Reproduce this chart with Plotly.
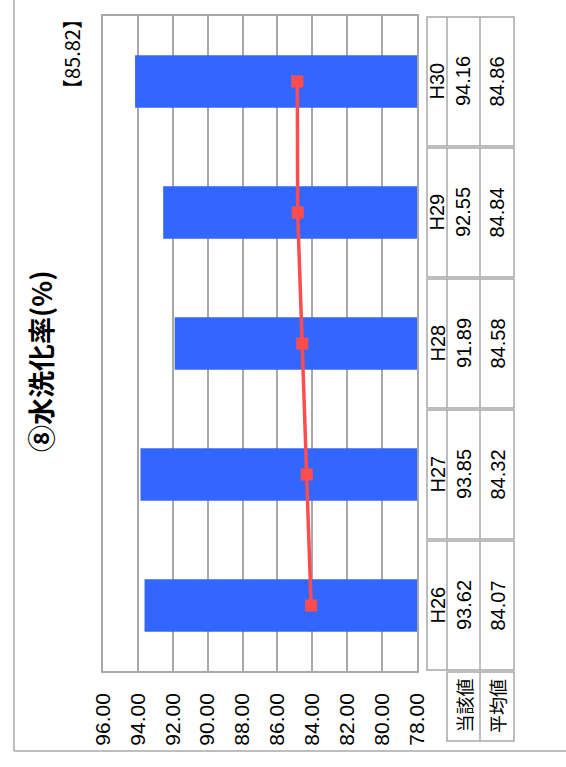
import plotly.graph_objects as go

# ---- data ----
categories = ["H26", "H27", "H28", "H29", "H30"]
actual_values = [93.62, 93.85, 91.89, 92.55, 94.16]
average_values = [84.07, 84.32, 84.58, 84.84, 84.86]
overall_label = "【85.82】"
title_text = "⑧水洗化率(%)"
row_labels = ["当該値", "平均値"]
tick_values = [78, 80, 82, 84, 86, 88, 90, 92, 94, 96]
tick_labels = [f"{v:.2f}" for v in tick_values]

W, H = 566, 767
def px(x):
    return x / W
def py(y):
    return 1 - y / H

GRID = "#A8A8A8"
NUMFONT = "Liberation Sans, Arial, sans-serif"
JPFONT = "Noto Sans CJK JP, sans-serif"

fig = go.Figure()
fig.add_trace(go.Bar(
    y=categories, x=actual_values, orientation="h", width=0.4,
    marker=dict(color="#3366FF", line=dict(width=0)),
    showlegend=False, hoverinfo="skip",
))
fig.add_trace(go.Scatter(
    y=categories, x=average_values, mode="lines+markers",
    line=dict(color="#FF4D4D", width=3.5),
    marker=dict(symbol="square", size=12, color="#FF4D4D"),
    showlegend=False, hoverinfo="skip", cliponaxis=False,
))

fig.update_layout(
    width=W, height=H,
    margin=dict(l=0, r=0, t=0, b=0),
    paper_bgcolor="white", plot_bgcolor="white",
    xaxis=dict(
        domain=[px(103), px(417)], range=[96, 78], automargin=False,
        tickvals=tick_values, ticktext=tick_labels, tickangle=-90,
        showgrid=True, gridcolor=GRID, gridwidth=1.5,
        showline=True, mirror=True, linecolor=GRID, linewidth=1.5,
        zeroline=False, ticks="", ticklabelstandoff=12,
        tickfont=dict(family=NUMFONT, size=21, color="black"),
    ),
    yaxis=dict(
        domain=[py(671), py(16)], range=[-0.5, 4.5], automargin=False,
        categoryorder="array", categoryarray=categories,
        showgrid=False, showticklabels=False, ticks="",
        showline=True, mirror=True, linecolor=GRID, linewidth=1.5,
        zeroline=False,
    ),
    bargap=0.6,
)

shapes = []
line_style = dict(color=GRID, width=1.5)
# outer frame (left and bottom)
shapes.append(dict(type="line", xref="paper", yref="paper", x0=px(14), x1=px(14), y0=1, y1=py(751), line=line_style))
shapes.append(dict(type="line", xref="paper", yref="paper", x0=px(14), x1=1, y0=py(751), y1=py(751), line=line_style))

# table blocks per category
col_x = [427, 447, 480, 514]
annotations = []
inset = 0.008
for i, cat in enumerate(categories):
    shapes.append(dict(type="rect", xref="paper", yref="y",
                       x0=px(col_x[0]), x1=px(col_x[3]), y0=i - 0.5 + inset, y1=i + 0.5 - inset,
                       line=line_style, fillcolor="rgba(0,0,0,0)"))
    for cx in col_x[1:3]:
        shapes.append(dict(type="line", xref="paper", yref="y",
                           x0=px(cx), x1=px(cx), y0=i - 0.5 + inset, y1=i + 0.5 - inset, line=line_style))
    texts = [cat, f"{actual_values[i]:.2f}", f"{average_values[i]:.2f}"]
    for j, t in enumerate(texts):
        annotations.append(dict(
            xref="paper", yref="y", x=px((col_x[j] + col_x[j + 1]) / 2), y=cat,
            text=t, textangle=-90, showarrow=False, xanchor="center", yanchor="middle",
            font=dict(family=NUMFONT, size=20, color="black"),
        ))

# header row
shapes.append(dict(type="rect", xref="paper", yref="paper",
                   x0=px(col_x[1]), x1=px(col_x[3]), y0=py(741), y1=py(672),
                   line=line_style, fillcolor="rgba(0,0,0,0)"))
shapes.append(dict(type="line", xref="paper", yref="paper",
                   x0=px(col_x[2]), x1=px(col_x[2]), y0=py(741), y1=py(672), line=line_style))
for j, lab in enumerate(row_labels):
    annotations.append(dict(
        xref="paper", yref="paper", x=px((col_x[j + 1] + col_x[j + 2]) / 2), y=py(706),
        text=lab, textangle=-90, showarrow=False, xanchor="center", yanchor="middle",
        font=dict(family=JPFONT, size=18, color="black"),
    ))

# title and overall average
annotations.append(dict(
    xref="paper", yref="paper", x=px(40), y=py(362), text=f"<b>{title_text}</b>",
    textangle=-90, showarrow=False, xanchor="center", yanchor="middle",
    font=dict(family=JPFONT, size=27, color="black"),
))
annotations.append(dict(
    xref="paper", yref="paper", x=px(72), y=py(54), text=overall_label,
    textangle=-90, showarrow=False, xanchor="center", yanchor="middle",
    font=dict(family=JPFONT, size=20, color="black"),
))

fig.update_layout(shapes=shapes, annotations=annotations)
fig.write_html("out.html")
